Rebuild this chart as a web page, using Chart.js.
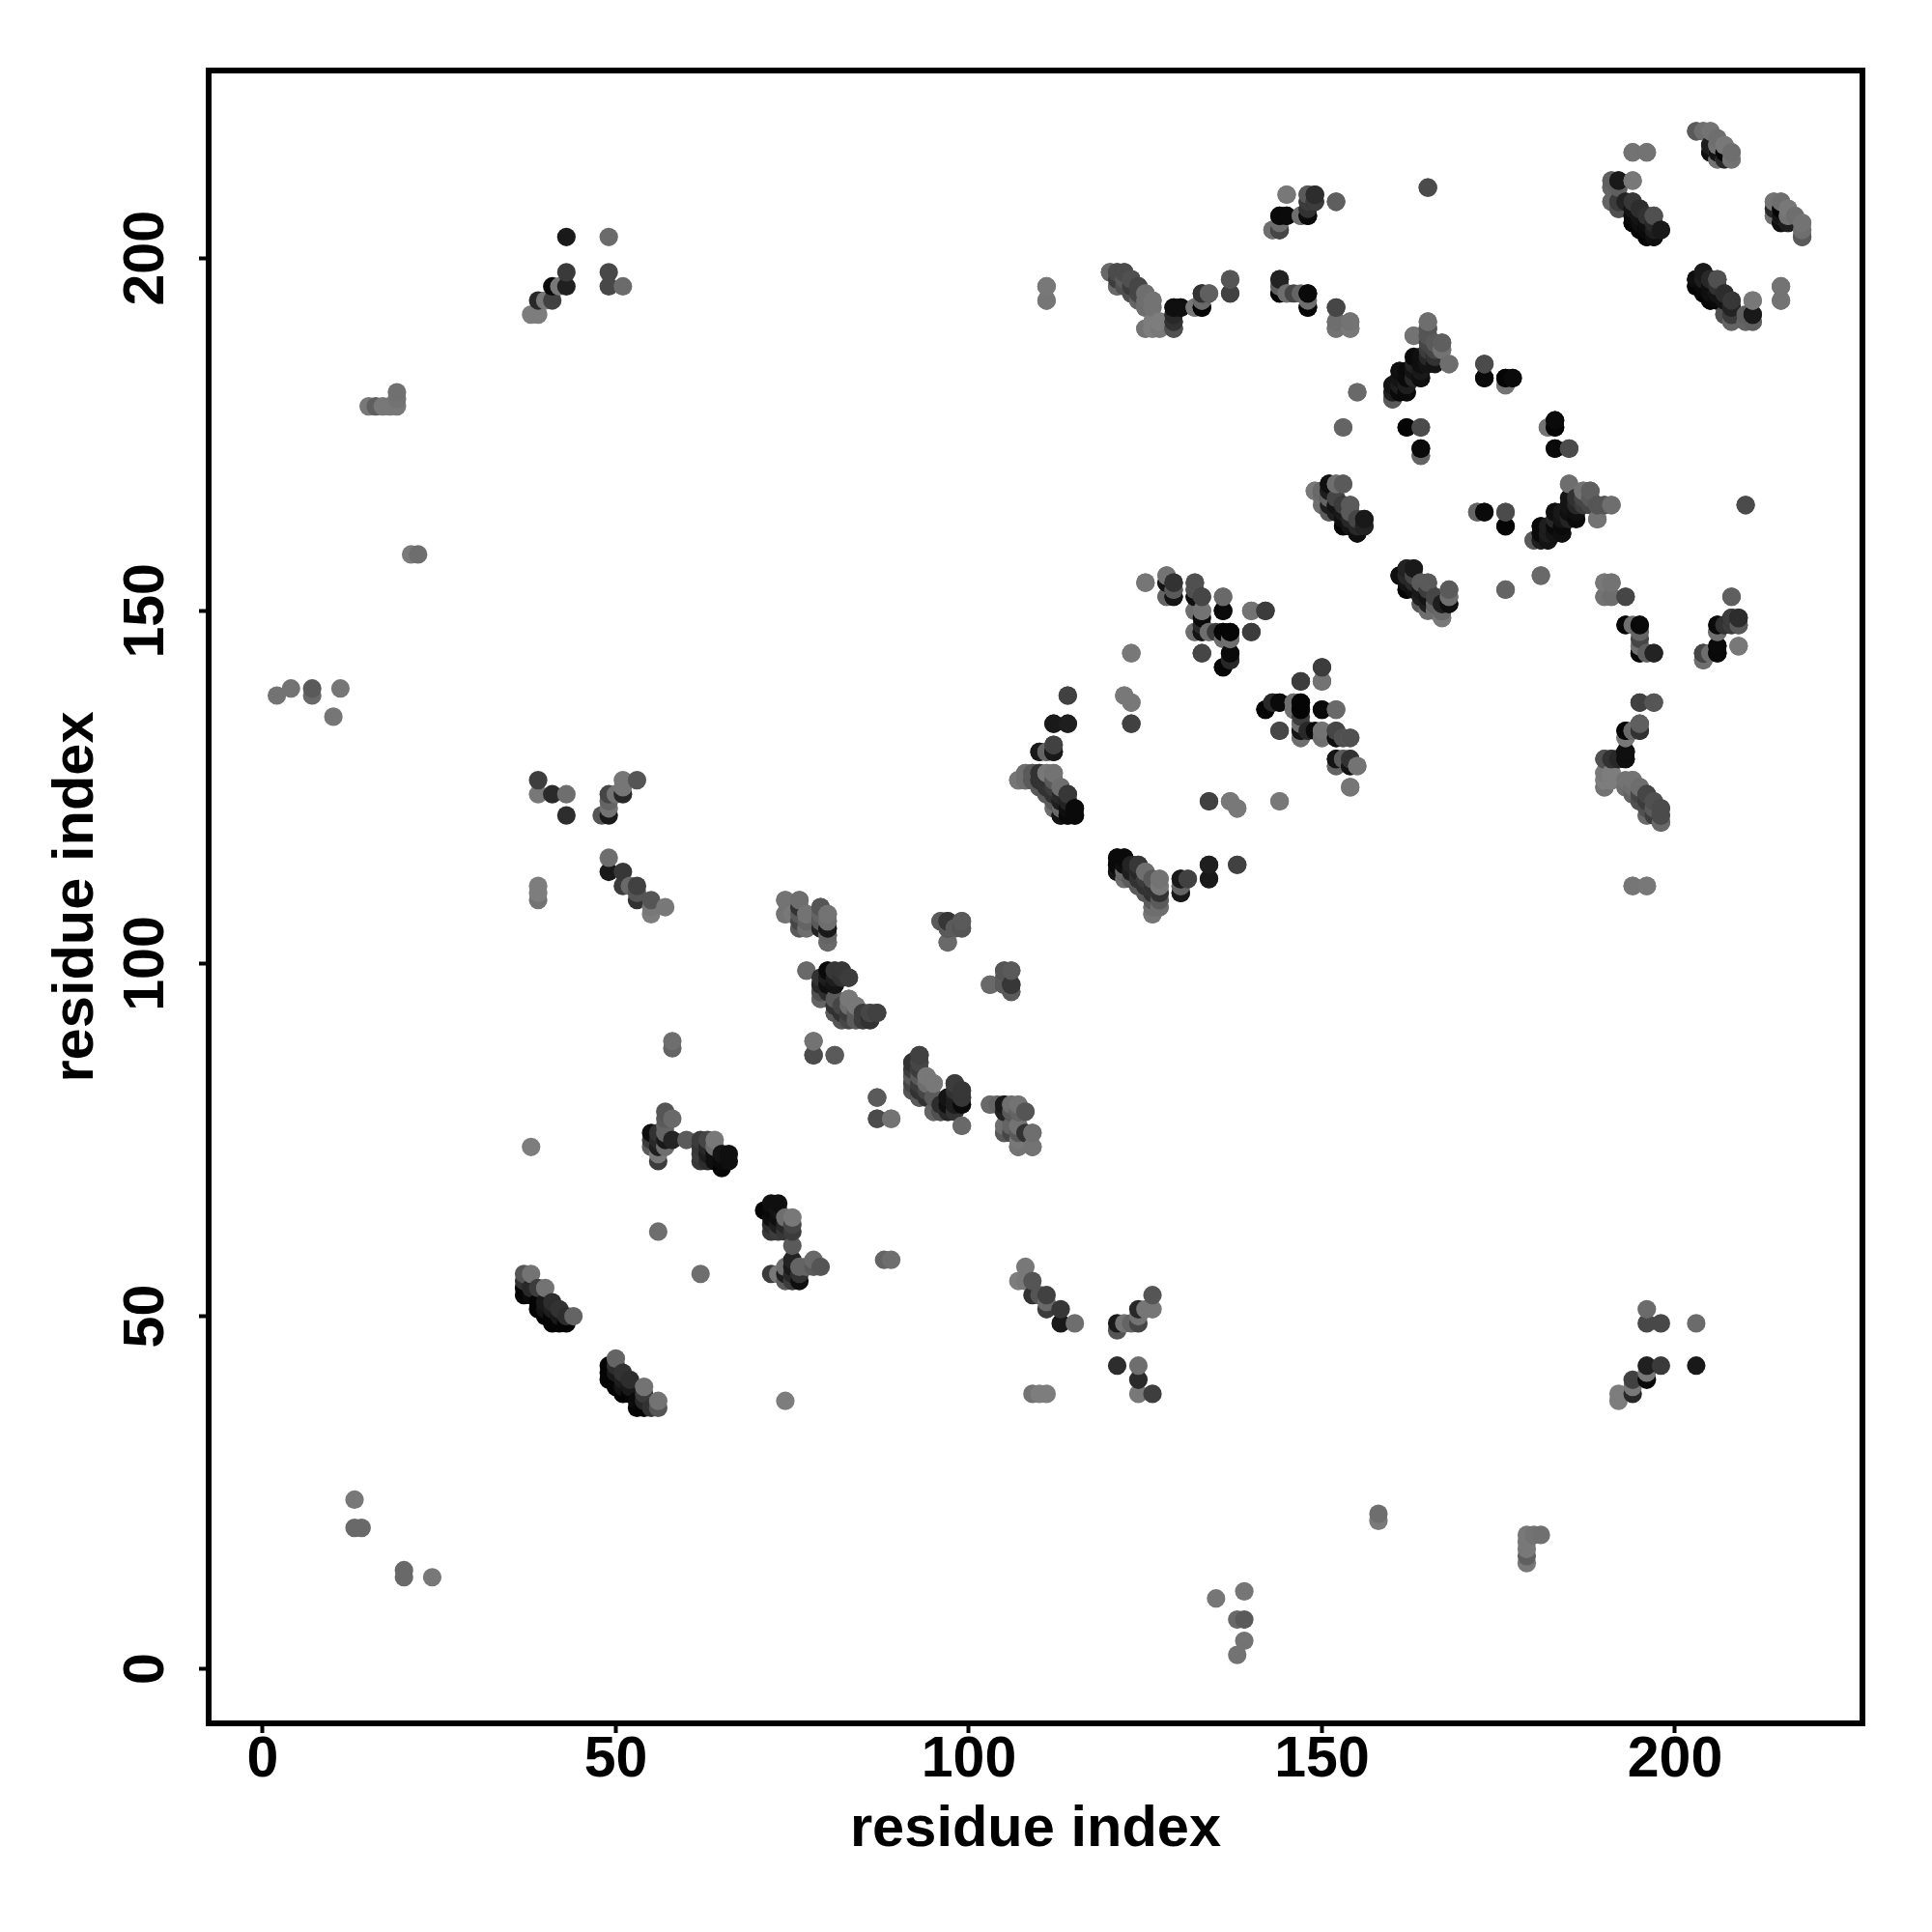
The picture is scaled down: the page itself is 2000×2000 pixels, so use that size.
<!DOCTYPE html>
<html><head><meta charset="utf-8">
<style>html,body{margin:0;padding:0;background:#fff}#w{width:2000px;height:2000px}canvas{display:block}</style>
<script src="https://cdn.jsdelivr.net/npm/chart.js@4"></script>
</head><body><div id="w"><canvas id="c" width="2000" height="2000"></canvas></div>
<script>
// residue i, residue j (i<j), grey level of the contact; the map is symmetric about the diagonal
const farContactsA=[[43,203,25],[49,203,107],[43,198,58],[43,196,32],[49,198,72],[49,196,72],[51,196,107],[41,196,10],[42,196,120],[39,194,40],[40,194,120],[41,194,65],[38,192,125],[39,192,125],[15,179,120],[16,179,95],[17,179,120],[18,179,120],[19,179,120],[19,180,115],[19,181,112],[21,158,122],[22,158,110],[2,138,115],[4,139,115],[7,139,90],[7,138,105],[11,139,118],[10,135,118],[13,24,120],[13,20,105],[14,20,105]];
const farContactsB=[[39,126,62],[39,124,120],[41,124,42],[43,124,110],[43,121,45],[49,115,110],[49,113,25],[51,113,55],[51,111,60],[52,111,105],[53,111,65],[53,110,85],[53,109,50],[55,109,85],[55,108,120],[55,107,125],[57,108,120],[39,111,125],[39,110,125],[39,109,115],[48,121,85],[49,121,25],[49,122,115],[49,123,100],[49,124,70],[50,124,115],[51,124,40],[51,125,118],[51,126,118],[53,126,85],[58,89,110],[58,88,100],[38,74,125],[56,62,110]];
const bandA=[[57,79,85],[58,78,105],[57,78,90],[57,77,100],[55,76,15],[55,75,60],[55,74,90],[56,76,50],[56,75,40],[56,74,30],[56,73,120],[56,72,60],[57,76,100],[57,75,25],[57,74,110],[58,75,35],[60,75,90],[62,75,60],[63,75,70],[64,75,120],[62,74,55],[62,73,60],[62,72,55],[63,74,40],[63,73,30],[63,72,45],[64,74,110],[64,73,15],[64,72,15],[65,73,20],[65,72,10],[65,71,5],[66,73,15],[66,72,15]];
const bandB=[[37,56,85],[38,56,115],[37,55,50],[37,54,5],[37,53,5],[38,54,40],[38,53,10],[39,54,60],[40,54,115],[39,52,5],[40,52,25],[41,52,45],[39,51,5],[40,51,20],[41,51,30],[42,51,50],[40,50,5],[41,50,5],[42,50,25],[43,50,45],[44,50,100],[41,49,5],[42,49,5],[43,49,5]];
const bandC=[[74,109,115],[74,107,120],[75,107,120],[76,109,115],[76,107,90],[76,106,70],[76,105,100],[77,107,120],[77,106,100],[77,105,115],[79,108,95],[79,107,75],[79,106,55],[79,105,40],[80,107,120],[80,106,115],[80,105,15],[80,104,120],[80,103,100],[96,106,95],[97,106,45],[97,105,60],[97,103,110],[98,105,110],[99,106,85],[99,105,65],[103,97,105],[105,99,85],[105,98,90],[105,97,90],[106,99,90],[106,97,55],[106,96,90]];
const bandD=[[77,99,115],[80,99,30],[81,99,50],[82,99,50],[83,98,60],[80,98,25],[81,98,30],[79,97,80],[80,97,30],[81,97,25],[79,96,70],[80,96,45],[79,95,110],[83,95,110],[81,94,70],[82,94,60],[84,94,110],[81,93,55],[82,93,40],[83,93,70],[85,93,95],[86,93,85],[87,93,55],[82,92,90],[83,92,90],[84,92,80],[85,92,60],[86,92,30],[78,89,115],[78,87,75],[81,87,95],[87,81,90],[87,78,75],[89,78,115]];
const bandE=[[93,87,65],[92,86,50],[93,86,70],[92,85,60],[93,85,60],[92,84,90],[93,84,90],[94,84,120],[92,83,70],[93,83,60],[94,83,110],[95,83,120],[92,82,85],[93,82,50],[94,82,70],[93,81,90],[94,81,50],[95,81,90],[95,79,100],[96,79,80],[97,79,40],[97,80,15],[97,81,20],[98,83,60],[99,82,55],[98,82,50],[99,81,55],[99,80,10],[98,80,30],[98,79,50],[99,77,105],[103,80,105],[104,80,100],[105,80,25],[106,80,110],[107,80,115],[105,79,35],[106,79,90],[107,79,100],[108,79,85],[105,77,110],[105,76,90],[107,77,115],[108,76,50],[109,76,110],[107,74,115],[109,74,115]];
const bandF=[[114,138,72],[112,134,25],[114,134,30],[110,130,30],[111,130,100],[112,131,85],[112,130,20],[107,126,120],[108,127,110],[109,127,90],[110,127,70],[111,127,115],[112,127,115],[108,126,110],[109,126,70],[110,126,55],[111,126,90],[112,126,110],[113,125,120],[110,125,100],[111,125,60],[112,125,60],[111,124,70],[112,124,40],[113,124,105],[114,124,45],[112,123,95],[113,123,30],[114,123,25],[112,122,110],[113,122,40],[114,122,15],[115,122,10],[113,121,10],[114,121,10],[115,121,10],[122,138,120],[123,137,115],[123,134,72],[123,144,120],[134,123,65],[137,123,120],[138,122,120],[144,123,120],[134,114,30],[134,112,25],[138,114,65]];
const bandG=[[121,115,10],[122,115,10],[121,114,10],[121,113,20],[122,114,15],[123,114,35],[124,114,55],[122,113,105],[123,113,30],[124,113,40],[125,113,110],[123,112,90],[124,112,50],[125,112,60],[126,112,90],[127,112,115],[124,111,90],[125,111,50],[126,111,50],[127,111,120],[125,110,90],[126,110,50],[127,110,50],[126,109,90],[127,109,90],[126,108,110],[127,108,110],[126,107,118],[130,112,25],[131,112,65],[130,111,100],[130,110,25]];
const bandH=[[132,147,115],[133,148,60],[133,147,15],[134,147,110],[133,144,65],[135,147,60],[136,147,10],[137,147,5],[137,146,100],[140,147,60],[137,144,10],[137,143,40],[136,142,10],[125,154,110],[128,155,120],[128,154,10],[128,152,105],[129,154,55],[129,153,90],[129,152,10],[132,154,115],[132,153,100],[132,152,15],[133,152,55],[132,150,115],[133,150,115],[133,149,10],[136,152,105],[136,150,10],[140,150,110],[142,150,55]];
const bandI=[[147,140,60],[142,136,5],[143,137,40],[144,137,10],[146,137,110],[147,137,5],[147,136,5],[146,136,110],[144,133,70],[147,134,110],[147,133,20],[147,132,110],[148,133,40],[150,142,60],[150,140,115],[150,136,10],[152,136,105],[150,133,115],[150,132,110],[152,133,70],[152,132,15],[153,132,80],[154,132,80],[152,129,20],[152,128,100],[153,129,90],[154,129,50],[154,128,20],[155,128,115],[154,125,118]];
const bandJ=[[195,137,60],[197,137,100],[195,134,85],[193,133,10],[194,133,110],[195,133,40],[193,132,115],[193,130,10],[193,129,10],[190,129,60],[191,129,50],[192,129,40],[190,127,120],[191,127,125],[190,126,125],[191,126,120],[190,125,110],[193,126,115],[194,126,110],[193,125,115],[194,125,90],[195,125,110],[194,124,100],[195,124,90],[195,123,70],[196,124,60],[196,123,60],[197,123,85],[196,121,120],[197,122,70],[198,122,70],[198,121,70],[198,120,80],[197,121,60],[194,111,118],[196,111,118]];
const bandK=[[193,148,10],[194,148,110],[195,148,10],[195,146,70],[195,145,110],[195,144,10],[196,144,100],[197,144,30],[204,143,115],[204,144,25],[205,144,110],[206,145,5],[206,144,5],[209,145,118],[206,148,5],[206,147,60],[207,148,30],[208,148,40],[209,148,40],[209,149,30],[208,149,30],[208,152,90]];
const bandL=[[145,209,120],[148,209,90],[144,206,10],[145,206,10],[147,206,110],[148,206,10],[143,204,110],[144,204,70],[148,208,60],[148,207,50],[149,209,45],[149,208,60],[152,208,95],[165,210,80],[120,198,105],[121,198,75],[122,198,75],[121,196,105],[122,197,90],[123,197,80],[122,196,80],[124,196,70],[123,195,80],[124,195,70],[125,195,110],[126,194,115],[125,194,110],[124,194,100],[125,193,110],[125,190,115],[126,191,125],[127,191,125],[127,190,120],[126,190,125],[129,193,15],[130,193,15],[129,192,40],[129,191,50],[129,190,80],[132,193,120],[133,195,50],[134,195,95],[133,194,105],[133,193,5],[137,197,85],[137,195,65],[111,196,120],[111,194,118]];
const bandM=[[144,197,35],[144,196,95],[144,195,5],[145,195,110],[147,195,100],[148,195,10],[148,193,5],[152,193,75],[152,191,110],[154,191,115],[152,190,105],[154,190,110],[149,167,120]];
const bandN=[[203,218,110],[204,218,100],[205,218,115],[205,216,60],[205,215,15],[206,216,115],[206,215,100],[206,214,115],[207,216,120],[207,215,5],[207,214,120],[208,215,118],[208,214,115],[194,215,120],[196,215,105],[191,211,110],[191,210,100],[192,211,30],[194,211,120],[191,208,120],[192,208,55],[192,207,90],[193,208,50],[194,208,40],[194,207,25],[194,206,20],[194,205,5],[195,207,55],[195,206,40],[195,205,15],[195,204,5],[196,206,50],[197,206,90],[196,205,25],[196,204,10],[196,203,5],[197,205,50],[197,204,10],[197,203,5],[198,204,30]];
const bandO=[[214,208,115],[215,208,110],[214,207,40],[214,206,115],[215,206,20],[215,205,15],[216,207,120],[216,206,115],[216,205,30],[217,206,110],[218,205,115],[218,204,110],[218,203,90],[203,197,15],[203,196,5],[204,198,25],[204,197,30],[204,196,10],[205,197,40],[205,196,15],[205,194,5],[206,197,80],[206,195,20],[206,194,10],[207,195,45],[207,194,20],[208,194,55],[208,193,35],[208,192,60],[207,192,80],[208,191,100],[210,192,95],[211,194,120],[211,192,25],[210,191,100],[211,191,95],[215,196,115],[215,194,115]];
const bandP=[[165,191,120],[165,190,100],[165,189,85],[165,188,70],[163,189,115],[167,188,90],[167,187,115],[168,185,120],[166,186,40],[166,187,70],[165,186,25],[165,185,40],[164,185,10],[163,186,10],[163,185,35],[161,184,10],[162,184,35],[163,184,20],[164,183,10],[161,183,10],[160,182,10],[161,182,20],[162,182,10],[163,183,40],[162,181,5],[161,181,10],[160,181,45],[160,180,80],[155,181,115],[153,176,115],[162,176,10],[164,176,70],[164,173,10],[164,172,90],[173,185,85],[173,183,10],[176,183,5],[177,183,5],[176,182,115],[183,177,10],[183,176,5],[182,176,115],[183,173,10],[185,173,75]];
const bandQ=[[185,168,110],[187,167,115],[188,167,95],[188,166,90],[185,166,20],[186,166,50],[187,165,60],[186,165,40],[185,165,20],[183,164,15],[184,164,25],[185,164,15],[186,164,15],[189,165,85],[190,165,85],[191,165,110],[189,163,115],[181,162,10],[182,162,30],[183,162,10],[184,162,10],[181,161,10],[182,161,30],[183,161,20],[184,161,15],[180,160,90],[181,160,30],[182,160,20],[210,165,75],[173,164,10],[172,164,100],[176,164,75],[176,162,5],[181,155,105],[176,153,100],[190,154,120],[191,154,115],[190,152,115],[191,152,110],[193,152,70]];
const bandR=[[151,168,10],[152,168,110],[153,168,100],[150,167,90],[151,167,25],[151,166,50],[150,165,110],[151,165,30],[151,164,90],[152,165,10],[152,164,30],[153,165,35],[154,165,90],[153,163,15],[154,164,90],[154,163,40],[155,163,70],[153,162,5],[155,162,40],[155,161,5],[156,163,35],[156,162,15],[161,155,15],[162,156,35],[163,156,25],[162,155,40],[162,154,20],[162,153,5],[164,154,90],[165,154,90],[164,153,25],[165,153,60],[164,152,30],[165,152,20],[164,151,90],[166,152,70],[166,151,100],[166,150,110],[168,153,90],[168,152,110],[168,151,15],[167,151,30],[167,150,105],[167,149,120]];
const tickValues=[0,50,100,150,200];
const axisTitle='residue index';

const allContacts=[farContactsA,farContactsB,bandA,bandB,bandC,bandD,bandE,bandF,bandG,bandH,bandI,bandJ,bandK,bandL,bandM,bandN,bandO,bandP,bandQ,bandR].flat();
const points=[];
allContacts.forEach(([i,j,s])=>{points.push({x:i,y:j,s});points.push({x:j,y:i,s});});
points.sort((a,b)=>a.x-b.x||a.y-b.y);
const FONT='"Liberation Sans"';
const frame={id:'frame',afterDraw(c){const a=c.chartArea,g=c.ctx;g.save();g.strokeStyle='#000';g.lineWidth=6;g.strokeRect(a.left,a.top,a.right-a.left,a.bottom-a.top);g.restore();}};
function axis(extra){return Object.assign({type:'linear',
  afterBuildTicks(s){s.ticks=tickValues.map(v=>({value:v}));},
  border:{display:false},
  grid:{display:true,drawOnChartArea:false,drawTicks:true,tickLength:10,tickWidth:4,tickColor:'#000'},
},extra);}
new Chart(document.getElementById('c'),{
  type:'scatter',
  data:{datasets:[{data:points,showLine:false,pointRadius:9.6,pointHoverRadius:9.6,pointBorderWidth:0,
    pointBackgroundColor:points.map(p=>`rgb(${p.s},${p.s},${p.s})`)}]},
  options:{responsive:false,animation:false,
    layout:{padding:{top:73,right:72,left:0,bottom:0}},
    plugins:{legend:{display:false},tooltip:{enabled:false}},
    scales:{
      x:axis({min:-7.66,max:226.54,afterFit(s){s.height=216;},
        ticks:{color:'#000',font:{family:FONT,weight:'bold',size:59},padding:-7,maxRotation:0,minRotation:0,autoSkip:false},
        title:{display:true,text:axisTitle,color:'#000',font:{family:FONT,weight:'bold',size:59.6},padding:{top:0,bottom:70}}}),
      y:axis({min:-7.71,max:226.6,afterFit(s){s.width=216;},
        ticks:{color:'#000',font:{family:FONT,weight:'bold',size:59},padding:4,maxRotation:90,minRotation:90,autoSkip:false,crossAlign:'center'},
        title:{display:true,text:axisTitle,color:'#000',font:{family:FONT,weight:'bold',size:59.6},padding:{top:44,bottom:0}}})
    }},
  plugins:[frame]
});
</script></body></html>
